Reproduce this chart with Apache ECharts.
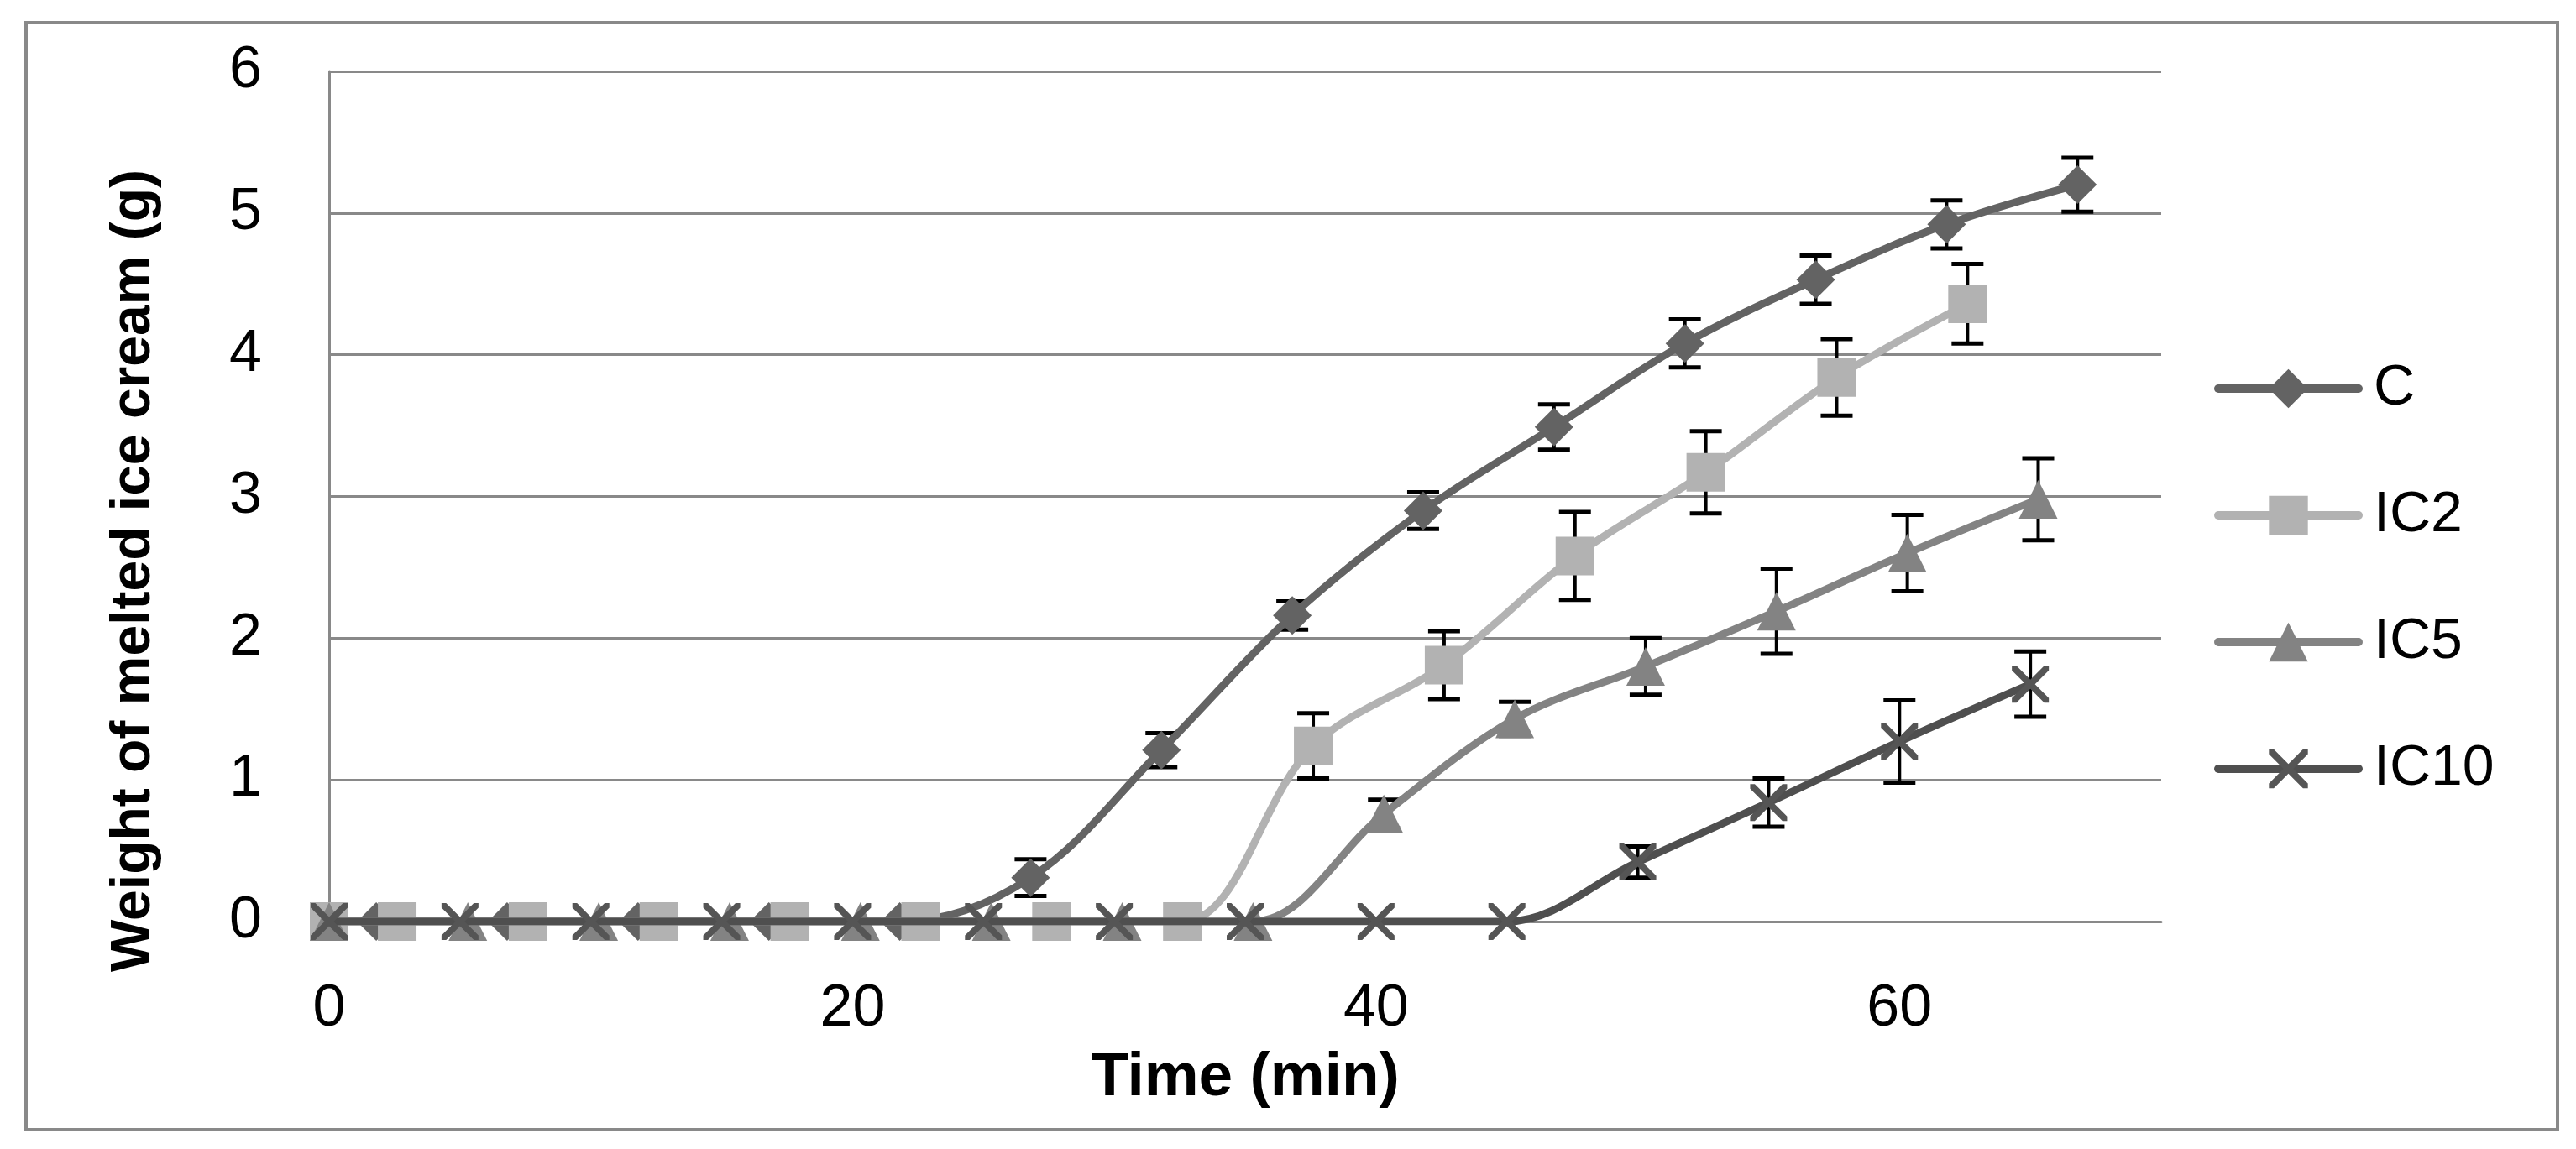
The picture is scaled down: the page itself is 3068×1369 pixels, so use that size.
<!DOCTYPE html>
<html>
<head>
<meta charset="utf-8">
<script src="https://cdn.jsdelivr.net/npm/echarts@6/dist/echarts.min.js"></script>
<style>
html,body{margin:0;padding:0;background:#fff;}
#chart{width:3068px;height:1369px;}
</style>
</head>
<body>
<div id="chart"></div>
<script>
// ---- data ----
const seriesNames = ['C', 'IC2', 'IC5', 'IC10'];

const timeC  = [0, 1.8, 6.8, 11.8, 16.8, 21.8, 26.8, 31.8, 36.8, 41.8, 46.8, 51.8, 56.8, 61.8, 66.8];
const valC   = [0, 0, 0, 0, 0, 0, 0.31, 1.21, 2.16, 2.90, 3.49, 4.08, 4.53, 4.92, 5.20];
const errC   = [0, 0, 0, 0, 0, 0, 0.13, 0.12, 0.10, 0.13, 0.16, 0.17, 0.17, 0.17, 0.19];

const timeIC2 = [0, 2.6, 7.6, 12.6, 17.6, 22.6, 27.6, 32.6, 37.6, 42.6, 47.6, 52.6, 57.6, 62.6];
const valIC2  = [0, 0, 0, 0, 0, 0, 0, 0, 1.24, 1.81, 2.58, 3.17, 3.84, 4.36];
const errIC2  = [0, 0, 0, 0, 0, 0, 0, 0, 0.23, 0.24, 0.31, 0.29, 0.27, 0.28];

const timeIC5 = [0, 5.3, 10.3, 15.3, 20.3, 25.3, 30.3, 35.3, 40.3, 45.3, 50.3, 55.3, 60.3, 65.3];
const valIC5  = [0, 0, 0, 0, 0, 0, 0, 0, 0.76, 1.43, 1.80, 2.19, 2.60, 2.98];
const errIC5  = [0, 0, 0, 0, 0, 0, 0, 0, 0.10, 0.12, 0.20, 0.30, 0.27, 0.29];

const timeIC10 = [0, 5, 10, 15, 20, 25, 30, 35, 40, 45, 50, 55, 60, 65];
const valIC10  = [0, 0, 0, 0, 0, 0, 0, 0, 0, 0, 0.42, 0.84, 1.27, 1.675];
const errIC10  = [0, 0, 0, 0, 0, 0, 0, 0, 0, 0, 0.11, 0.17, 0.29, 0.23];

const xTicks = [0, 20, 40, 60];
const yTicks = [0, 1, 2, 3, 4, 5, 6];
const xTitle = 'Time (min)';
const yTitle = 'Weight of melted ice cream (g)';

// ---- styling ----
const FONT = 'Liberation Sans';
const GRAY = '#898989';
const colors = ['#636363', '#b2b2b2', '#838383', '#555555'];
const lineColors = ['#636363', '#b2b2b2', '#838383', '#4f4f4f'];
const xSymbol = 'path://M0,0 L5.5,0 L22,16.5 L38.5,0 L44,0 L44,5.5 L27.5,22 L44,38.5 L44,44 L38.5,44 L22,27.5 L5.5,44 L0,44 L0,38.5 L16.5,22 L0,5.5 Z';
const symbols = ['diamond', 'rect', 'triangle', xSymbol];
const symbolSizes = [46, 46, 46, 44];

const times = [timeC, timeIC2, timeIC5, timeIC10];
const vals = [valC, valIC2, valIC5, valIC10];
const errs = [errC, errIC2, errIC5, errIC10];

function pairs(t, v) { return t.map((x, i) => [x, v[i]]); }
function errData(t, v, e) {
  const out = [];
  t.forEach((x, i) => { if (e[i] > 0) out.push([x, v[i], e[i]]); });
  return out;
}

const series = [];
// error bars (drawn beneath markers)
seriesNames.forEach((name, k) => {
  series.push({
    type: 'custom',
    name: name + '_err',
    z: 1,
    silent: true,
    data: errData(times[k], vals[k], errs[k]),
    renderItem: function (params, api) {
      const x = api.value(0), v = api.value(1), e = api.value(2);
      const top = api.coord([x, v + e]);
      const bot = api.coord([x, v - e]);
      const hw = 19;
      return {
        type: 'group',
        children: [
          { type: 'line', shape: { x1: top[0], y1: top[1], x2: bot[0], y2: bot[1] }, style: { stroke: '#000', lineWidth: 4 } },
          { type: 'line', shape: { x1: top[0] - hw, y1: top[1], x2: top[0] + hw, y2: top[1] }, style: { stroke: '#000', lineWidth: 5 } },
          { type: 'line', shape: { x1: bot[0] - hw, y1: bot[1], x2: bot[0] + hw, y2: bot[1] }, style: { stroke: '#000', lineWidth: 5 } }
        ]
      };
    }
  });
});
seriesNames.forEach((name, k) => {
  series.push({
    type: 'line',
    name: name,
    z: 2 + k,
    data: pairs(times[k], vals[k]),
    smooth: 0.35,
    symbol: symbols[k],
    symbolSize: symbolSizes[k],
    showAllSymbol: true,
    lineStyle: { color: lineColors[k], width: 9 },
    itemStyle: { color: colors[k], borderWidth: 0 },
    emphasis: { disabled: true },
    animation: false
  });
});

const chart = echarts.init(document.getElementById('chart'), null, { renderer: 'canvas' });
chart.setOption({
  animation: false,
  backgroundColor: '#ffffff',
  grid: { left: 392, right: 494, top: 85, bottom: 271, containLabel: false },
  xAxis: {
    type: 'value',
    min: xTicks[0],
    max: 70,
    interval: xTicks[1] - xTicks[0],
    name: xTitle,
    nameLocation: 'middle',
    nameGap: 150,
    nameTextStyle: { fontFamily: FONT, fontWeight: 'bold', fontSize: 73, color: '#000' },
    axisLine: { show: true, lineStyle: { color: GRAY, width: 3 } },
    axisTick: { show: false },
    splitLine: { show: false },
    axisLabel: {
      fontFamily: FONT, fontSize: 70, color: '#000', margin: 70,
      showMaxLabel: false,
      formatter: v => (xTicks.indexOf(v) >= 0 ? String(v) : '')
    }
  },
  yAxis: {
    type: 'value',
    min: yTicks[0],
    max: yTicks[yTicks.length - 1],
    interval: 1,
    axisLine: { show: true, lineStyle: { color: GRAY, width: 3 } },
    axisTick: { show: false },
    splitLine: { show: true, lineStyle: { color: GRAY, width: 3 } },
    axisLabel: { fontFamily: FONT, fontSize: 70, color: '#000', margin: 80 }
  },
  legend: {
    data: seriesNames,
    orient: 'vertical',
    left: 2632,
    top: 424,
    itemWidth: 167,
    itemHeight: 58,
    itemGap: 83,
    selectedMode: false,
    lineStyle: { width: 10, cap: 'round' },
    textStyle: { fontFamily: FONT, fontSize: 68, color: '#000', padding: [0, 0, 0, 13] }
  },
  graphic: [
    {
      type: 'rect',
      shape: { x: 31, y: 27, width: 3015, height: 1319 },
      style: { fill: 'none', stroke: GRAY, lineWidth: 4 },
      silent: true, z: 0
    },
    {
      type: 'text',
      x: 160, y: 680,
      rotation: Math.PI / 2,
      style: {
        text: yTitle, fontFamily: FONT, fontWeight: 'bold', fontSize: 66,
        fill: '#000', align: 'center', verticalAlign: 'middle'
      },
      silent: true
    }
  ],
  series: series
});
</script>
</body>
</html>
